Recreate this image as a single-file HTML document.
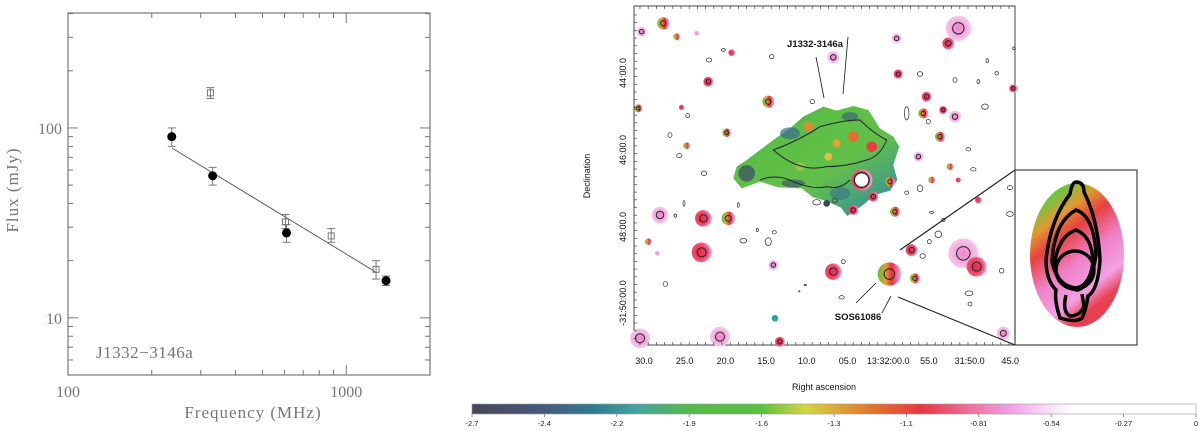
<!DOCTYPE html>
<html><head><meta charset="utf-8">
<style>
html,body{margin:0;padding:0;background:#fff;width:1200px;height:431px;overflow:hidden}
svg{display:block}
</style></head>
<body>
<svg id="root" width="1200" height="431" viewBox="0 0 1200 431" xmlns="http://www.w3.org/2000/svg">
<defs>
<linearGradient id="cbar" x1="0" x2="1" y1="0" y2="0">
<stop offset="0" stop-color="#4a4758"/>
<stop offset="0.1" stop-color="#455a7e"/>
<stop offset="0.17" stop-color="#2f7d92"/>
<stop offset="0.23" stop-color="#44a59a"/>
<stop offset="0.3" stop-color="#55b84a"/>
<stop offset="0.4" stop-color="#5cc040"/>
<stop offset="0.46" stop-color="#d4d544"/>
<stop offset="0.55" stop-color="#e0782c"/>
<stop offset="0.62" stop-color="#e83540"/>
<stop offset="0.68" stop-color="#ee6a90"/>
<stop offset="0.75" stop-color="#f2a6ee"/>
<stop offset="0.8" stop-color="#f8e2f8"/>
<stop offset="0.83" stop-color="#ffffff"/>
<stop offset="1" stop-color="#ffffff"/>
</linearGradient>
<radialGradient id="spotR" cx="0.4" cy="0.5" r="0.6"><stop offset="0" stop-color="#e8284a"/><stop offset="0.7" stop-color="#ee5070"/><stop offset="1" stop-color="#f6b0e8"/></radialGradient>
<radialGradient id="spotP" cx="0.5" cy="0.5" r="0.6"><stop offset="0" stop-color="#f080c8"/><stop offset="1" stop-color="#f8d8f4"/></radialGradient>
<linearGradient id="spotG" x1="0" x2="1"><stop offset="0" stop-color="#60c040"/><stop offset="0.35" stop-color="#e0a030"/><stop offset="0.6" stop-color="#e83040"/><stop offset="1" stop-color="#f4a0e0"/></linearGradient>
<linearGradient id="blob" x1="0" y1="0" x2="1" y2="1">
<stop offset="0" stop-color="#3b6f8a"/><stop offset="0.3" stop-color="#5cbf45"/><stop offset="0.6" stop-color="#62bf4a"/><stop offset="0.85" stop-color="#3f9a8a"/><stop offset="1" stop-color="#2f6f8a"/></linearGradient>
<linearGradient id="inset" x1="0.2" y1="0.1" x2="0.6" y2="0.9">
<stop offset="0" stop-color="#66c840"/><stop offset="0.18" stop-color="#e09a30"/><stop offset="0.35" stop-color="#e84040"/><stop offset="0.6" stop-color="#ef80c8"/><stop offset="0.85" stop-color="#f4a0e4"/><stop offset="1" stop-color="#e84050"/></linearGradient>
</defs>

<g id="left"></g>

<g id="map">
  <rect x="634" y="6" width="381" height="339" fill="#fff" stroke="#444" stroke-width="1"/>
  <g transform="translate(560,0) scale(0.33333)" id="mapinner">
    <path fill="url(#blob)" d="M520,535 L530,500 L560,480 L600,450 L640,420 L690,385 L730,350 L770,330 L790,320 L830,332 L880,318 L925,330 L960,385 L1000,410 L1018,440 L1000,495 L1012,540 L990,572 L945,585 L905,618 L862,648 L842,622 L795,602 L760,592 L725,565 L655,562 L600,545 L545,565 Z"/>
    <ellipse cx="690" cy="400" rx="30" ry="18" fill="#3a6a8a" opacity="0.7"/>
    <ellipse cx="870" cy="350" rx="25" ry="14" fill="#3a5a80" opacity="0.6"/>
    <ellipse cx="700" cy="550" rx="35" ry="12" fill="#3a4a6a" opacity="0.6"/>
    <ellipse cx="840" cy="580" rx="30" ry="20" fill="#3a7a8a" opacity="0.7"/>
    <ellipse cx="560" cy="520" rx="25" ry="25" fill="#3a4a6a" opacity="0.7"/>
    <circle cx="745" cy="380" r="14" fill="#e08a30"/><circle cx="830" cy="430" r="12" fill="#e8a030"/>
    <circle cx="880" cy="410" r="16" fill="#e07030"/><circle cx="935" cy="440" r="16" fill="#e84040"/>
    <circle cx="805" cy="470" r="12" fill="#d8c040"/>
    <circle cx="800" cy="610" r="10" fill="#404060"/><circle cx="720" cy="500" r="14" fill="#a8c840" opacity="0.7"/>
    <path d="M640,450 Q720,420 780,380 Q850,360 900,360 Q940,400 980,420 Q960,470 920,480 Q860,500 800,500 Q720,520 640,450Z" fill="none" stroke="#222" stroke-width="3"/>
    <path d="M600,540 Q650,520 700,545 Q760,570 800,560 Q840,570 870,540" fill="none" stroke="#222" stroke-width="3"/>
    <circle cx="905" cy="540" r="32" fill="url(#spotR)"/>
    <circle cx="905" cy="540" r="22" fill="#fff" stroke="#222" stroke-width="4"/>
  </g>
</g>

<g>
  <line x1="900" y1="250" x2="1015" y2="170" stroke="#222" stroke-width="1.2"/>
  <line x1="898" y1="297" x2="1015" y2="345" stroke="#222" stroke-width="1.2"/>
  <rect x="1015" y="170" width="122" height="175" fill="#fff" stroke="#444" stroke-width="1.2"/>
  <ellipse cx="1077" cy="255" rx="47" ry="72" fill="url(#inset)"/>
  <g fill="none" stroke="#000" stroke-width="3.5">
    <path d="M1076,182 Q1084,182 1084,192 Q1098,220 1100,260 Q1098,290 1088,296 Q1086,310 1082,318 Q1076,323 1060,318 Q1054,300 1056,290 Q1046,280 1046,260 Q1050,220 1070,194 Q1072,182 1076,182Z"/>
    <path d="M1076,210 Q1094,216 1096,255 Q1092,285 1078,290 Q1058,288 1052,262 Q1054,222 1076,210Z"/>
    <path d="M1076,230 Q1092,236 1093,262 Q1090,286 1076,288 Q1058,286 1054,266 Q1058,236 1076,230Z"/>
    <ellipse cx="1075" cy="270" rx="19" ry="19"/>
    <path d="M1066,295 Q1062,312 1070,316 Q1080,316 1084,306 L1082,294"/>
  </g>
</g>

<g font-family="Liberation Sans, sans-serif" fill="#111">
  <text x="815" y="47" font-size="9.5" font-weight="bold" text-anchor="middle">J1332-3146a</text>
  <line x1="816" y1="57" x2="824" y2="98" stroke="#111" stroke-width="0.8"/>
  <line x1="848" y1="37" x2="843" y2="94" stroke="#111" stroke-width="0.8"/>
  <text x="858" y="320" font-size="9.5" font-weight="bold" text-anchor="middle">SOS61086</text>
  <line x1="856" y1="303" x2="876" y2="283" stroke="#111" stroke-width="0.8"/>
  <line x1="882" y1="313" x2="891" y2="296" stroke="#111" stroke-width="0.8"/>
  <text x="824" y="390" font-size="9" text-anchor="middle">Right ascension</text>
  <text transform="translate(590,176) rotate(-90)" font-size="9" text-anchor="middle">Declination</text>
  <g id="raLabels" font-size="9" text-anchor="middle"></g>
  <g id="decLabels" font-size="9" text-anchor="middle"></g>
</g>

<g>
  <rect x="472" y="404" width="724" height="10" fill="url(#cbar)" stroke="#999" stroke-width="0.6"/>
  <g id="cbLabels" font-family="Liberation Sans, sans-serif" font-size="7.5" fill="#222" text-anchor="middle"></g>
</g>

<script>
const freqFilled = [236, 331, 610, 1390];
const fluxFilled = [90, 56, 28, 15.7];
const errFilledLo = [80, 50, 25, 14.8];
const errFilledHi = [100, 62, 31, 16.6];
const freqOpen = [325, 605, 883, 1280];
const fluxOpen = [153, 32, 27, 18];
const errOpenLo = [143, 29.5, 25, 16];
const errOpenHi = [163, 35, 29.5, 20];
const fitFreq = [236, 1270];
const fitFlux = [78.5, 17.5];
const xTickLabels = [100, 1000];
const yTickLabels = [10, 100];
const cbTickLabels = ["-2.7","-2.4","-2.2","-1.9","-1.6","-1.3","-1.1","-0.81","-0.54","-0.27","0"];
const raLabels = ["30.0","25.0","20.0","15.0","10.0","05.0","13:32:00.0","55.0","31:50.0","45.0"];
const decLabels = ["44:00.0","46:00.0","48:00.0","-31:50:00.0"];

const NS='http://www.w3.org/2000/svg';
const X0=68,X1=430,Y0=13,Y1=375;
const xMin=Math.log10(100), xMax=Math.log10(2000);
const yMin=Math.log10(5.0), yMax=Math.log10(403);
function sx(f){return X0+(Math.log10(f)-xMin)/(xMax-xMin)*(X1-X0);}
function sy(v){return Y1-(Math.log10(v)-yMin)/(yMax-yMin)*(Y1-Y0);}
function mk(tag,attrs,parent){const e=document.createElementNS(NS,tag);for(const k in attrs)e.setAttribute(k,attrs[k]);parent.appendChild(e);return e;}
const L=document.getElementById('left');
const G='#777';
const frame=mk('rect',{x:X0,y:Y0,width:X1-X0,height:Y1-Y0,fill:'none',stroke:G,'stroke-width':1.2},L);


[100,200,300,400,500,600,700,800,900,1000,2000].forEach(f=>{
  const major=(f===100||f===1000); const len=major?10:5; const x=sx(f);
  mk('line',{x1:x,y1:Y1,x2:x,y2:Y1-len,stroke:G},L);
  mk('line',{x1:x,y1:Y0,x2:x,y2:Y0+len,stroke:G},L);
});
[6,7,8,9,10,20,30,40,50,60,70,80,90,100,200,300,400].forEach(v=>{
  const major=(v===10||v===100); const len=major?10:5; const y=sy(v);
  mk('line',{x1:X0,y1:y,x2:X0+len,y2:y,stroke:G},L);
  mk('line',{x1:X1,y1:y,x2:X1-len,y2:y,stroke:G},L);
});
xTickLabels.forEach(v=>{
  const t=mk('text',{x:sx(v),y:Y1+22,'text-anchor':'middle','font-family':'Liberation Serif, serif','font-size':16,fill:G},L);
  t.textContent=v;
  
  
});
yTickLabels.forEach(v=>{
  const t=mk('text',{x:X0-6,y:sy(v)+6,'text-anchor':'end','font-family':'Liberation Serif, serif','font-size':16,fill:G},L);
  t.textContent=v;
  
  
});
let t=mk('text',{x:253,y:418,'text-anchor':'middle','font-family':'Liberation Serif, serif','font-size':17,fill:G,'letter-spacing':'1'},L);
t.textContent='Frequency (MHz)';


t=mk('text',{transform:'translate(18,190) rotate(-90)','text-anchor':'middle','font-family':'Liberation Serif, serif','font-size':17,fill:G,'letter-spacing':'1'},L);
t.textContent='Flux (mJy)';


t=mk('text',{x:96,y:358,'font-family':'Liberation Serif, serif','font-size':17,fill:G,'letter-spacing':'0.5'},L);
t.textContent='J1332\u22123146a';


const fl=mk('line',{x1:sx(fitFreq[0]),y1:sy(fitFlux[0]),x2:sx(fitFreq[1]),y2:sy(fitFlux[1]),stroke:'#555','stroke-width':0.9},L);


function errbar(f,lo,hi){const x=sx(f);mk('line',{x1:x,y1:sy(lo),x2:x,y2:sy(hi),stroke:G},L);
  mk('line',{x1:x-4,y1:sy(lo),x2:x+4,y2:sy(lo),stroke:G},L);mk('line',{x1:x-4,y1:sy(hi),x2:x+4,y2:sy(hi),stroke:G},L);}
freqOpen.forEach((f,i)=>{errbar(f,errOpenLo[i],errOpenHi[i]);
  const r=mk('rect',{x:sx(f)-3,y:sy(fluxOpen[i])-3,width:6,height:6,fill:'none',stroke:G},L);
  
  });
freqFilled.forEach((f,i)=>{errbar(f,errFilledLo[i],errFilledHi[i]);
  const c=mk('circle',{cx:sx(f),cy:sy(fluxFilled[i]),r:4.5,fill:'#000'},L);
  
  });

const MI=document.getElementById('mapinner');
const spots=[[310,70,18,'G'],[245,95,15,'P'],[445,245,15,'R'],[820,172,18,'P'],[625,305,18,'G'],[500,398,13,'G'],[380,437,10,'G'],[1015,222,14,'R'],[1100,290,15,'R'],[1090,340,15,'G'],[1150,330,12,'R'],[1185,350,18,'P'],[1140,410,15,'G'],[1170,500,10,'G'],[1115,540,10,'G'],[1195,540,8,'R'],[1075,470,15,'P'],[1165,130,18,'R'],[1195,85,38,'P'],[1010,115,15,'P'],[300,645,25,'P'],[430,655,25,'R'],[505,655,20,'G'],[425,757,30,'R'],[265,725,10,'G'],[292,760,8,'P'],[640,795,15,'P'],[820,815,25,'R'],[988,822,35,'G'],[1055,750,18,'R'],[1065,835,15,'G'],[1210,760,45,'P'],[1250,800,30,'R'],[1255,600,10,'R'],[645,955,10,'T'],[660,1025,15,'R'],[480,1010,30,'P'],[240,1015,30,'P'],[940,590,15,'R'],[990,545,15,'G'],[880,630,15,'R'],[1005,635,15,'G'],[1330,1000,20,'P'],[1360,265,12,'R'],[235,325,12,'G'],[365,322,8,'R'],[515,158,10,'R'],[410,100,8,'P'],[350,110,10,'G']];
spots.forEach(s=>{
  const fill=s[3]==='R'?'url(#spotR)':s[3]==='P'?'url(#spotP)':s[3]==='G'?'url(#spotG)':'#2aa890';
  const c=mk('circle',{cx:s[0],cy:s[1],r:s[2],fill:fill},MI);
  
  
  if(s[2]>=12) mk('circle',{cx:s[0],cy:s[1],r:s[2]*0.45,fill:'none',stroke:'#222','stroke-width':3},MI);
});
const conts=[[447,180,8,6],[490,150,6,4],[635,170,7,6],[757,305,7,6],[1080,222,8,7],[1185,240,6,7],[1275,320,10,8],[1310,220,5,5],[1255,245,4,6],[1362,145,4,4],[1282,182,4,6],[330,405,6,7],[383,347,6,6],[358,467,8,6],[432,520,8,7],[1040,340,7,20],[1105,365,6,7],[1225,448,7,5],[1240,508,8,5],[1080,565,8,10],[1040,578,6,5],[1115,637,6,3],[1150,660,5,5],[1135,703,10,10],[1108,725,6,6],[1088,768,8,7],[1350,563,8,6],[1350,642,10,7],[1325,812,7,7],[1230,912,6,6],[1227,880,12,7],[316,852,7,7],[550,722,10,7],[625,725,9,12],[643,697,6,5],[592,690,3,5],[850,785,6,6],[845,892,8,5],[736,855,4,2],[718,874,2,2],[770,607,12,8],[824,602,8,6],[346,647,4,5],[372,610,3,8],[535,615,3,7]];
conts.forEach(c=>{
  const e=mk('ellipse',{cx:c[0],cy:c[1],rx:c[2],ry:c[3],fill:'none',stroke:'#333','stroke-width':2.2},MI);
  
  
});
const mapG=document.getElementById('map');
for(let x=640;x<1015;x+=8.2){mk('line',{x1:x,y1:6,x2:x,y2:9,stroke:'#444','stroke-width':0.7},mapG);mk('line',{x1:x,y1:345,x2:x,y2:342,stroke:'#444','stroke-width':0.7},mapG);}
for(let y=15;y<345;y+=7.7){mk('line',{x1:634,y1:y,x2:637,y2:y,stroke:'#444','stroke-width':0.7},mapG);}
const RA=document.getElementById('raLabels');
raLabels.forEach((s,i)=>{const tt=mk('text',{x:644+i*40.7,y:364},RA);tt.textContent=s;
  
  });
const DE=document.getElementById('decLabels');
decLabels.forEach((s,i)=>{const y=[73,150,227,303][i];const tt=mk('text',{transform:'translate(626,'+y+') rotate(-90)'},DE);tt.textContent=s;
  
  });
const CB=document.getElementById('cbLabels');
cbTickLabels.forEach((s,i)=>{const x=472+i*72.4;
  mk('line',{x1:x,y1:414,x2:x,y2:417,stroke:'#555','stroke-width':0.6},CB);
  const tt=mk('text',{x:x,y:426},CB);tt.textContent=s;
  
  });
</script>
</svg>
</body></html>
